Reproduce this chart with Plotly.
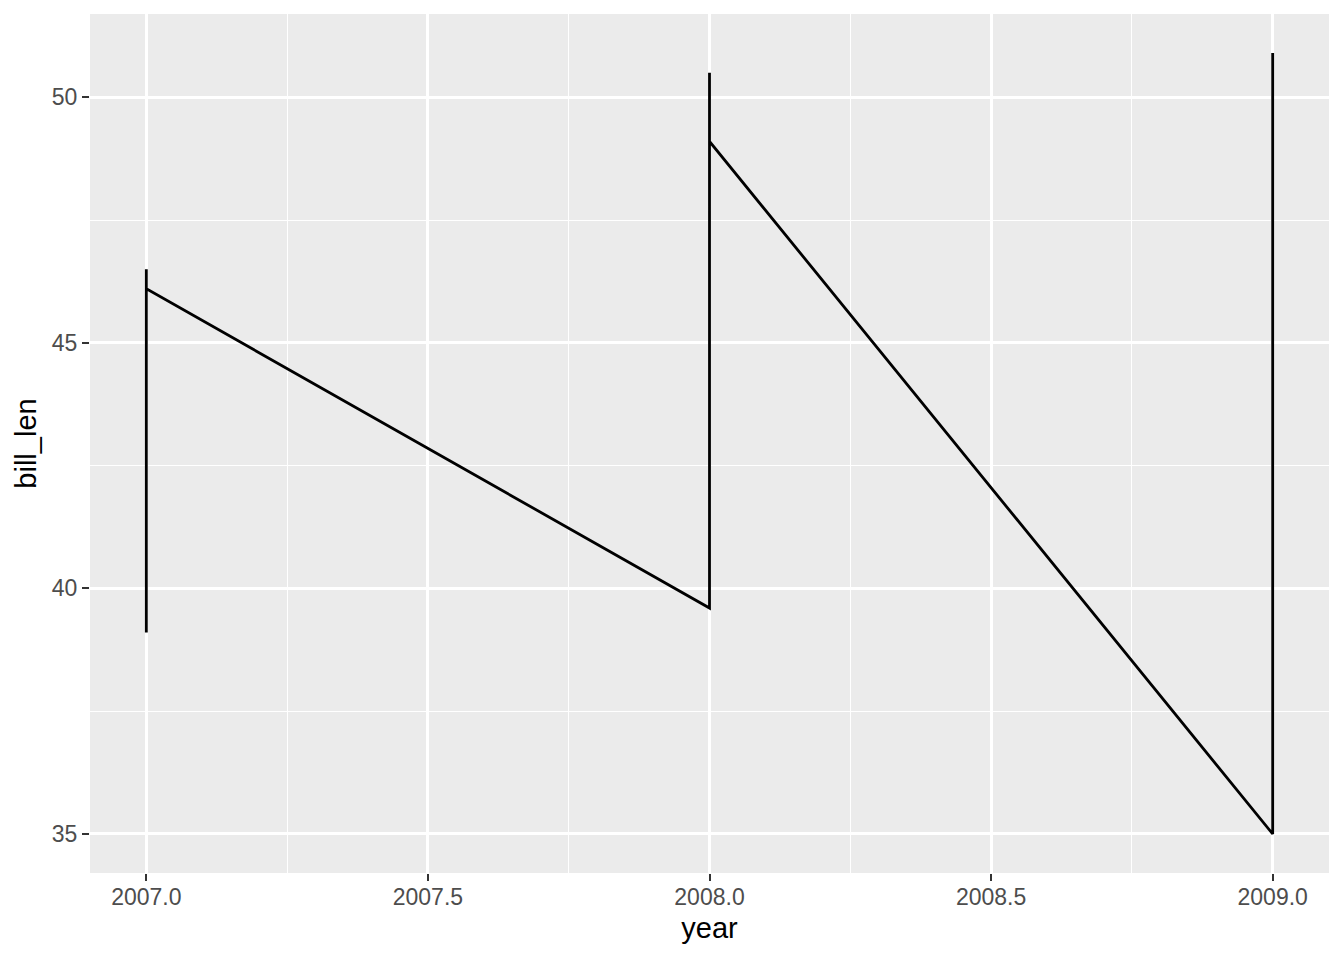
import plotly.graph_objects as go

# values (geom_line through penguins-like data, sorted by year)
year = [2007, 2007, 2007, 2008, 2008, 2008, 2009, 2009]
bill_len = [39.1, 46.5, 46.1, 39.6, 50.5, 49.1, 35.0, 50.9]

x_ticks = [2007.0, 2007.5, 2008.0, 2008.5, 2009.0]
y_ticks = [35, 40, 45, 50]

PANEL = "#EBEBEB"
TICK_COL = "#333333"
LABEL_COL = "#4D4D4D"
FONT = "Liberation Sans, Arial, sans-serif"


def expand(vals, mult=0.05):
    lo, hi = min(vals), max(vals)
    pad = (hi - lo) * mult
    return [lo - pad, hi + pad]


fig = go.Figure()
fig.add_scatter(
    x=year,
    y=bill_len,
    mode="lines",
    line=dict(color="black", width=2.8),
    showlegend=False,
    hoverinfo="skip",
)

axis_common = dict(
    showgrid=True,
    gridcolor="white",
    gridwidth=2.8,
    zeroline=False,
    showline=False,
    ticks="outside",
    ticklen=7,
    tickwidth=2.2,
    tickcolor=TICK_COL,
    tickfont=dict(family=FONT, size=23, color=LABEL_COL),
    title_font=dict(family=FONT, size=29, color="black"),
)

fig.update_xaxes(
    range=expand(year),
    tickvals=x_ticks,
    ticktext=[f"{v:.1f}" for v in x_ticks],
    minor=dict(dtick=0.25, tick0=2007, showgrid=True, gridcolor="white", gridwidth=1.4, ticklen=0),
    ticklabelstandoff=-4,
    title_text="year",
    title_standoff=9,
    **axis_common,
)
fig.update_yaxes(
    range=expand(bill_len),
    tickvals=y_ticks,
    ticktext=[str(v) for v in y_ticks],
    minor=dict(dtick=2.5, tick0=35, showgrid=True, gridcolor="white", gridwidth=1.4, ticklen=0),
    title_text="bill_len",
    title_standoff=6,
    **axis_common,
)

# page body adds an 8px offset, so margins are shifted to land the panel where the reference has it
fig.update_layout(
    width=1344,
    height=960,
    margin=dict(l=82, r=23, t=6, b=95),
    plot_bgcolor=PANEL,
    paper_bgcolor="white",
    font=dict(family=FONT),
)

fig.write_html("out.html")
